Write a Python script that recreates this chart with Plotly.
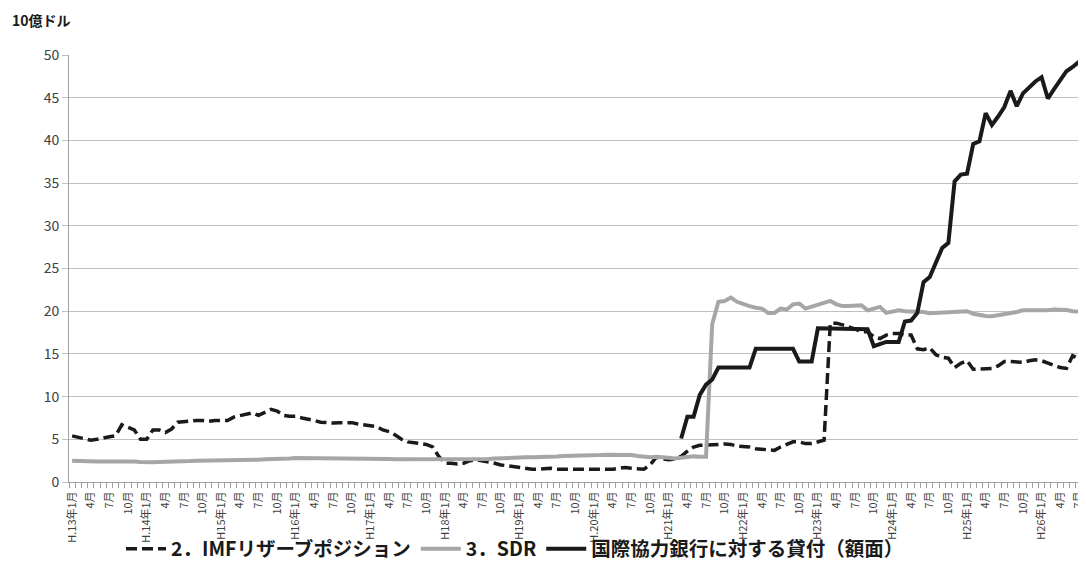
import plotly.graph_objects as go

# Monthly data, H.13年1月 (Jan 2001) .. H.26年7月 (Jul 2014)
years = ["H.13", "H.14", "H15", "H16", "H17", "H18", "H19", "H.20",
         "H21", "H22", "H23", "H24", "H25", "H26"]

imf_reserve = [
    5.4, 5.2, 5.0, 4.9, 5.0, 5.2, 5.3, 5.4, 6.7, 6.4, 6.1, 5.0,
    5.0, 6.1, 6.1, 5.8, 6.2, 7.0, 7.1, 7.1, 7.2, 7.2, 7.1, 7.2,
    7.2, 7.2, 7.6, 7.8, 7.9, 8.1, 7.8, 8.2, 8.5, 8.3, 7.8, 7.7,
    7.7, 7.5, 7.4, 7.2, 7.0, 6.9, 6.9, 6.95, 6.95, 6.95, 6.8, 6.7,
    6.6, 6.5, 6.1, 5.9, 5.5, 5.0, 4.7, 4.55, 4.5, 4.4, 4.1, 3.0,
    2.2, 2.2, 2.1, 2.2, 2.5, 2.6, 2.5, 2.4, 2.2, 2.0, 1.9, 1.8,
    1.6, 1.5, 1.5, 1.5, 1.6, 1.6, 1.5, 1.5, 1.4, 1.4, 1.4, 1.4,
    1.4, 1.4, 1.4, 1.5, 1.6, 1.7, 1.6, 1.6, 1.5, 2.0, 2.9, 2.7,
    2.6, 2.7, 3.0, 3.6, 4.1, 4.3, 4.3, 4.4, 4.4, 4.45, 4.4, 4.2,
    4.2, 4.1, 3.9, 3.8, 3.8, 3.7, 4.1, 4.4, 4.7, 4.7, 4.5, 4.5,
    4.7, 4.9, 18.6, 18.6, 18.4, 18.2, 17.9, 17.6, 17.6, 17.0, 16.8, 17.2,
    17.4, 17.4, 17.2, 17.2, 15.6, 15.5, 15.7, 14.9, 14.6, 14.5, 13.4, 13.9,
    14.2, 13.2, 13.2, 13.2, 13.3, 13.6, 14.1, 14.1, 14.1, 14.0, 14.2, 14.3,
    14.2, 13.9, 13.6, 13.4, 13.3, 14.8, 14.4,
]

sdr = [
    2.5, 2.45, 2.4, 2.4, 2.4, 2.4, 2.4, 2.45, 2.5, 2.45, 2.4, 2.35,
    2.3, 2.3, 2.35, 2.35, 2.4, 2.45, 2.45, 2.45, 2.5, 2.5, 2.5, 2.5,
    2.55, 2.55, 2.6, 2.6, 2.6, 2.55, 2.6, 2.65, 2.65, 2.7, 2.75, 2.75,
    2.8, 2.8, 2.75, 2.7, 2.7, 2.7, 2.7, 2.7, 2.7, 2.75, 2.8, 2.75,
    2.75, 2.75, 2.7, 2.7, 2.65, 2.65, 2.65, 2.65, 2.6, 2.6, 2.6, 2.6,
    2.6, 2.6, 2.65, 2.65, 2.7, 2.7, 2.7, 2.7, 2.75, 2.8, 2.8, 2.85,
    2.85, 2.9, 2.9, 2.9, 2.95, 3.0, 3.0, 3.05, 3.05, 3.1, 3.1, 3.1,
    3.15, 3.15, 3.2, 3.2, 3.2, 3.2, 3.15, 3.05, 2.95, 2.9, 2.95, 2.95,
    2.85, 2.75, 2.85, 2.95, 3.0, 2.95, 2.95, 18.5, 21.1, 21.2, 21.6, 21.1,
    20.8, 20.6, 20.4, 20.3, 19.8, 19.8, 20.3, 20.2, 20.8, 20.9, 20.3, 20.5,
    20.8, 21.0, 21.2, 20.8, 20.6, 20.6, 20.6, 20.7, 20.1, 20.3, 20.5, 19.8,
    19.9, 20.1, 20.0, 20.0, 20.0, 19.9, 19.75, 19.8, 19.9, 19.95, 20.0, 20.0,
    20.0, 19.7, 19.55, 19.45, 19.4, 19.5, 19.6, 19.75, 19.9, 20.1, 20.1, 20.05,
    20.05, 20.1, 20.2, 20.2, 20.15, 20.0, 19.95,
]

jbic_loan = [None] * 98 + [
    5.1, 7.65, 7.65, 10.2, 11.4, 12.0, 13.4, 13.4, 13.4, 13.4,
    13.4, 13.4, 15.6, 15.6, 15.6, 15.6, 15.6, 15.6, 15.6, 14.1, 14.1, 14.1,
    18.0, 18.0, 18.0, 18.0, 18.0, 18.0, 18.0, 18.0, 17.9, 15.9, 16.2, 16.4,
    16.4, 16.4, 18.8, 18.9, 19.8, 23.4, 24.0, 25.7, 27.4, 28.0, 35.2, 36.0,
    36.1, 39.6, 39.9, 43.2, 41.8, 42.8, 43.9, 45.8, 44.0, 45.5, 46.2, 46.9,
    47.4, 44.9, 46.0, 47.0, 48.1, 48.6, 49.2,
]

n = len(sdr)
months = list(range(n))

tick_vals = []
tick_text = []
for i in range(0, n, 3):
    m = i % 12 + 1
    tick_vals.append(i)
    if m == 1:
        tick_text.append(years[i // 12] + "年1月")
    else:
        tick_text.append(f"{m}月")

series_names = ["2．IMFリザーブポジション", "3．SDR", "国際協力銀行に対する貸付（額面）"]

FONT = "Noto Sans CJK JP"

# page has an 8px body margin; figure coordinates below are page - 8
L, T, PW, PH = 61, 47, 1013, 427
W, H = 1078, 577

fig = go.Figure()
fig.add_trace(go.Scatter(
    x=months, y=imf_reserve, mode="lines", name=series_names[0],
    line=dict(color="#1a1a1a", width=3.5, dash="11px,5px"),
))
fig.add_trace(go.Scatter(
    x=months, y=sdr, mode="lines", name=series_names[1],
    line=dict(color="#a6a6a6", width=4),
))
fig.add_trace(go.Scatter(
    x=months, y=jbic_loan, mode="lines", name=series_names[2],
    line=dict(color="#1a1a1a", width=4),
))

fig.update_layout(
    width=W, height=H,
    margin=dict(l=L, r=W - L - PW, t=T, b=H - T - PH),
    paper_bgcolor="white", plot_bgcolor="white",
    font=dict(family=FONT, color="#404040"),
    showlegend=True,
    legend=dict(
        orientation="h", x=(515 - 8 - L) / PW, xanchor="center",
        y=(T + PH - (549 - 8)) / PH, yanchor="middle",
        bgcolor="rgba(0,0,0,0)",
        font=dict(family=FONT, size=19.5, color="#1a1a1a", weight="bold"),
        itemwidth=40, traceorder="normal", tracegroupgap=0,
    ),
    xaxis=dict(
        range=[-0.5, n - 0.5], automargin=False,
        tickmode="array", tickvals=tick_vals, ticktext=tick_text,
        tickangle=-90, tickfont=dict(size=11, family=FONT, color="#404040"),
        ticks="", showgrid=False, zeroline=False, ticklabelstandoff=4,
        showline=True, linecolor="#a0a0a0", linewidth=1,
        minor=dict(tickvals=[i - 0.5 for i in range(n + 1)], ticks="outside",
                   ticklen=5, tickcolor="#a0a0a0", showgrid=False),
    ),
    yaxis=dict(
        range=[0, 50], dtick=5, tick0=0, automargin=False,
        tickfont=dict(size=14, family=FONT, color="#404040"),
        showgrid=True, gridcolor="#c0c0c0", gridwidth=1,
        zeroline=False,
        showline=True, linecolor="#a0a0a0", linewidth=1,
        ticks="outside", ticklen=6, tickcolor="#c0c0c0",
    ),
    annotations=[dict(
        text="<b>10億ドル</b>", xref="paper", yref="paper",
        x=(10 - 8 - L) / PW, y=(T + PH - (20 - 8)) / PH,
        xanchor="left", yanchor="middle",
        showarrow=False, font=dict(family=FONT, size=14, color="#1a1a1a"),
    )],
)

fig.write_html("out.html")
